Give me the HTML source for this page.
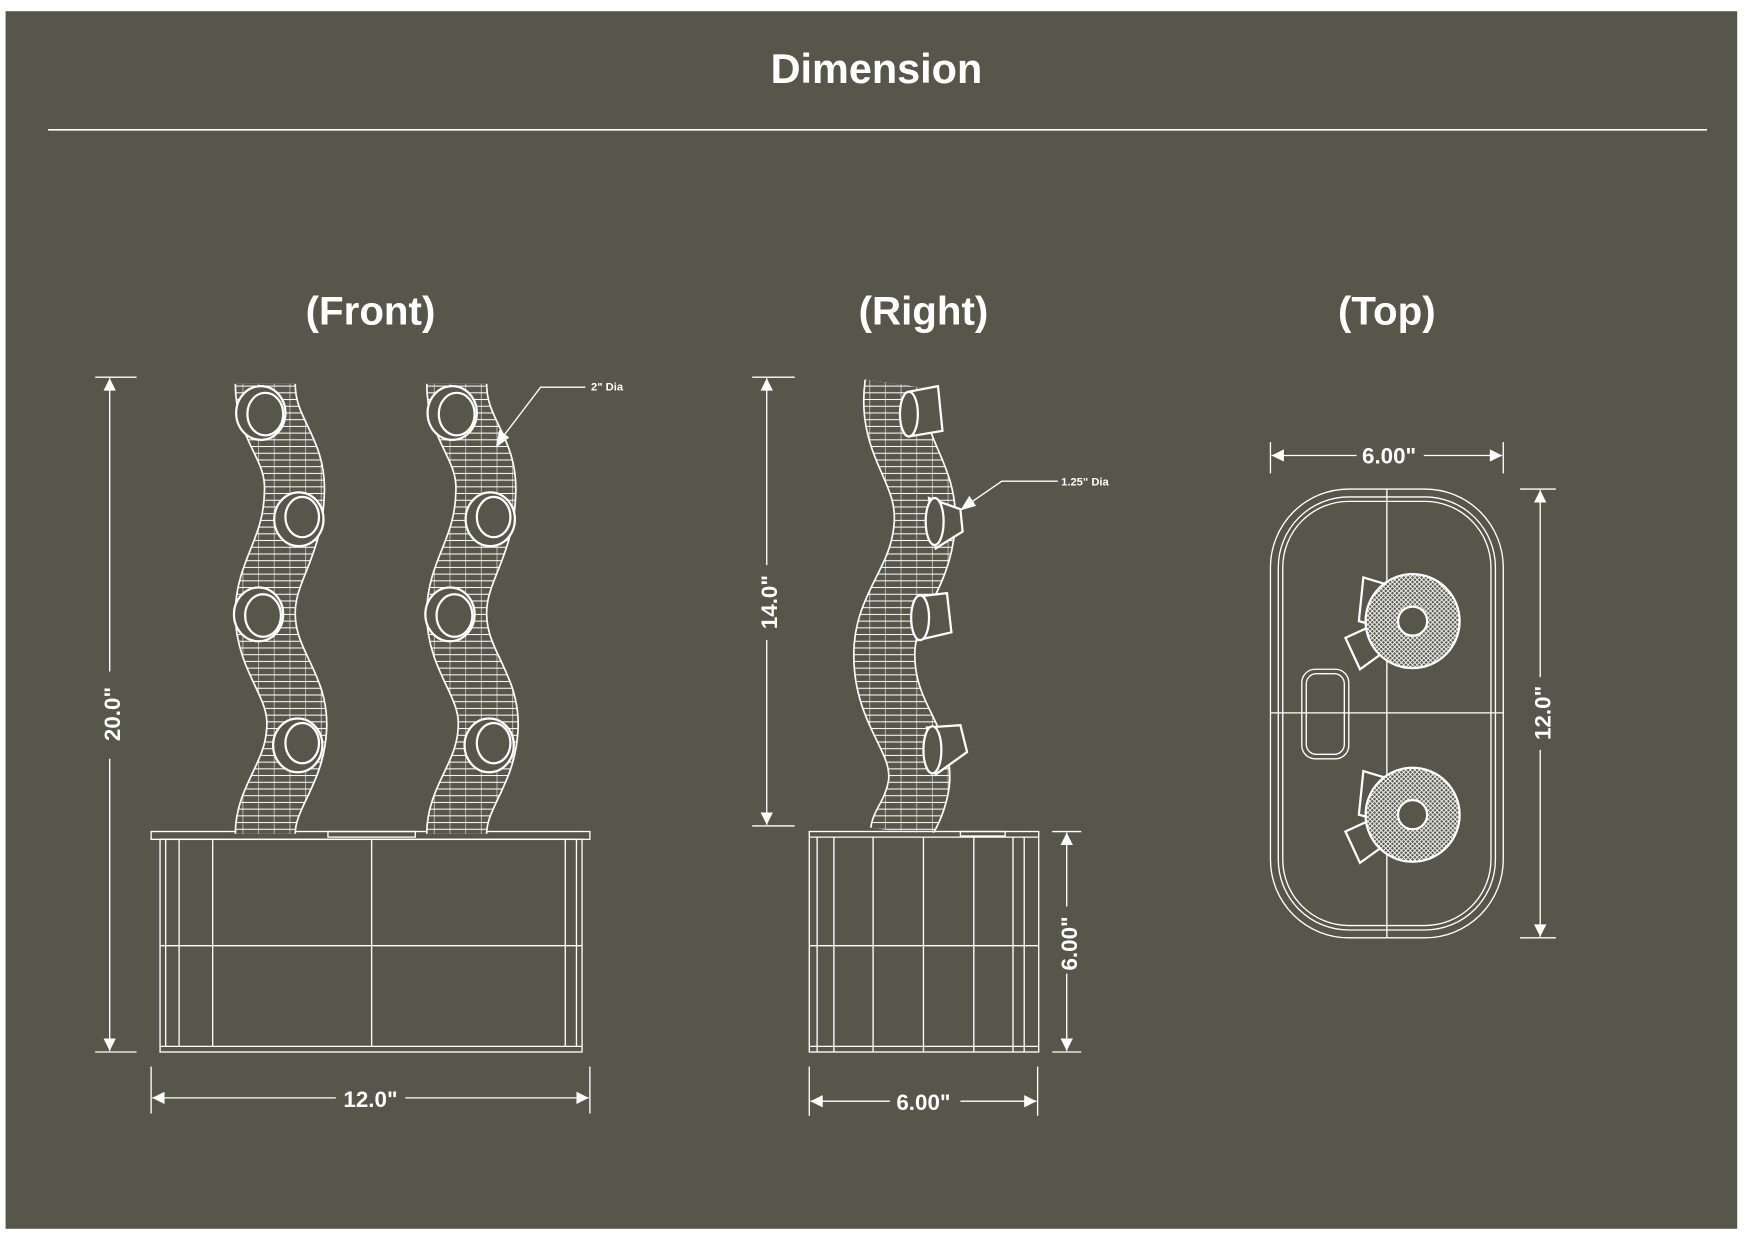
<!DOCTYPE html>
<html><head><meta charset="utf-8"><style>
html,body{margin:0;padding:0;background:#fff;width:1754px;height:1240px;overflow:hidden}
svg{display:block}
text{font-family:"Liberation Sans",sans-serif;font-weight:bold;fill:#fff}
</style></head><body>
<svg width="1754" height="1240" viewBox="0 0 1567 1108" preserveAspectRatio="none" xmlns="http://www.w3.org/2000/svg">
<defs>
<pattern id="h" width="14" height="6" patternUnits="userSpaceOnUse">
<rect width="14" height="6" fill="#56574a"/><path d="M0 3 H14" stroke="#fff" stroke-width="0.9"/><path d="M7 0 V6" stroke="#fff" stroke-width="0.5"/>
</pattern>
<pattern id="d" width="4" height="4" patternUnits="userSpaceOnUse">
<rect width="4" height="4" fill="#56574a"/><path d="M0 0 L4 4 M4 0 L0 4" stroke="#fff" stroke-width="0.8"/>
</pattern>
<marker id="a" viewBox="0 0 10 10" refX="10" refY="5" markerWidth="19" markerHeight="11" markerUnits="userSpaceOnUse" orient="auto-start-reverse"><path d="M0 0 L10 5 L0 10 Z" fill="#fff"/></marker>
<g id="tube">
<path d="M237,343 C237,385 265,400 263,440 C262,490 237,510 237,548 C237,592 268,612 265,652 C263,692 237,712 237,745" fill="none" stroke="#fff" stroke-width="55"/>
<path d="M237,343 C237,385 265,400 263,440 C262,490 237,510 237,548 C237,592 268,612 265,652 C263,692 237,712 237,745" fill="none" stroke="url(#h)" stroke-width="52"/>
<g fill="#56574a" stroke="#fff" stroke-width="2">
<ellipse cx="233" cy="369" rx="22" ry="24"/><ellipse cx="237" cy="370" rx="16" ry="19"/>
<ellipse cx="267" cy="464" rx="22" ry="24"/><ellipse cx="270" cy="462" rx="15" ry="18"/>
<ellipse cx="231" cy="549" rx="22" ry="24"/><ellipse cx="235" cy="550" rx="16" ry="19"/>
<ellipse cx="266" cy="666" rx="22" ry="24"/><ellipse cx="270" cy="664" rx="15" ry="18"/>
</g>
</g>
</defs>
<rect x="5" y="10" width="1547" height="1088" fill="#56574a"/>
<text x="783" y="74" font-size="37" text-anchor="middle">Dimension</text>
<line x1="43" y1="116" x2="1525" y2="116" stroke="#fff" stroke-width="1.5"/>
<text x="331" y="290" font-size="36" text-anchor="middle">(Front)</text>
<text x="825" y="290" font-size="36" text-anchor="middle">(Right)</text>
<text x="1239" y="290" font-size="36" text-anchor="middle">(Top)</text>

<g stroke="#fff" stroke-width="1.2" fill="none">
<line x1="85" y1="337" x2="122" y2="337"/><line x1="85" y1="940" x2="122" y2="940"/>
<line x1="98" y1="600" x2="98" y2="338" marker-end="url(#a)"/><line x1="98" y1="678" x2="98" y2="939" marker-end="url(#a)"/>
<line x1="135" y1="953" x2="135" y2="995"/><line x1="527" y1="953" x2="527" y2="995"/>
<line x1="300" y1="981" x2="136" y2="981" marker-end="url(#a)"/><line x1="362" y1="981" x2="526" y2="981" marker-end="url(#a)"/>
<rect x="135" y="743" width="392" height="7"/>
<rect x="143" y="750" width="377" height="190"/>
<line x1="143" y1="935" x2="520" y2="935"/>
<line x1="148" y1="750" x2="148" y2="935"/><line x1="160" y1="750" x2="160" y2="935"/><line x1="190" y1="750" x2="190" y2="935"/>
<line x1="332" y1="750" x2="332" y2="935"/><line x1="505" y1="750" x2="505" y2="935"/><line x1="515" y1="750" x2="515" y2="935"/>
<line x1="143" y1="845" x2="520" y2="845"/>
<rect x="293" y="743" width="78" height="5"/>
</g>
<text transform="translate(107,638) rotate(-90)" font-size="20" text-anchor="middle">20.0"</text>
<text x="331" y="989" font-size="20" text-anchor="middle">12.0"</text>

<use href="#tube"/>
<use href="#tube" x="171"/>
<path d="M523,346 H483 L448,392" fill="none" stroke="#fff" stroke-width="1.2"/>
<path d="M443,400 L446,384 L455,391 Z" fill="#fff"/>
<text x="528" y="349" font-size="10">2" Dia</text>

<g stroke="#fff" stroke-width="1.2" fill="none">
<line x1="672" y1="337" x2="710" y2="337"/><line x1="672" y1="738" x2="710" y2="738"/>
<line x1="685" y1="505" x2="685" y2="338" marker-end="url(#a)"/><line x1="685" y1="572" x2="685" y2="737" marker-end="url(#a)"/>
</g>
<path d="M800,343 C792,400 830,420 826,470 C822,520 790,540 790,585 C790,640 825,660 821,700 C817,725 806,735 805,743" fill="none" stroke="#fff" stroke-width="56"/>
<path d="M800,343 C792,400 830,420 826,470 C822,520 790,540 790,585 C790,640 825,660 821,700 C817,725 806,735 805,743" fill="none" stroke="url(#h)" stroke-width="53"/>
<rect x="720" y="744" width="215" height="200" fill="#56574a"/>
<g stroke="#fff" stroke-width="1.2" fill="none">
<rect x="723" y="743" width="205" height="197"/>
<line x1="723" y1="748" x2="928" y2="748"/>
<line x1="730" y1="748" x2="730" y2="940"/><line x1="745" y1="748" x2="745" y2="940"/><line x1="780" y1="748" x2="780" y2="940"/>
<line x1="825" y1="748" x2="825" y2="940"/><line x1="870" y1="748" x2="870" y2="940"/><line x1="905" y1="748" x2="905" y2="940"/><line x1="915" y1="748" x2="915" y2="940"/>
<line x1="723" y1="845" x2="928" y2="845"/><line x1="723" y1="935" x2="928" y2="935"/>
<rect x="858" y="743" width="40" height="4"/>
<line x1="940" y1="743" x2="966" y2="743"/><line x1="940" y1="940" x2="966" y2="940"/>
<line x1="953" y1="810" x2="953" y2="744" marker-end="url(#a)"/><line x1="953" y1="870" x2="953" y2="939" marker-end="url(#a)"/>
<line x1="723" y1="953" x2="723" y2="997"/><line x1="927" y1="953" x2="927" y2="997"/>
<line x1="795" y1="984" x2="724" y2="984" marker-end="url(#a)"/><line x1="858" y1="984" x2="926" y2="984" marker-end="url(#a)"/>
</g>
<text transform="translate(694,538) rotate(-90)" font-size="20" text-anchor="middle">14.0"</text>
<text transform="translate(962,843) rotate(-90)" font-size="20" text-anchor="middle">6.00"</text>
<text x="825" y="992" font-size="20" text-anchor="middle">6.00"</text>
<g fill="#56574a" stroke="#fff" stroke-width="2">
<path d="M812,350 L838,345 L842,385 L812,390 Z"/><ellipse cx="812" cy="370" rx="8" ry="20"/>
<path d="M830,445 L858,455 L860,475 L836,490 Z"/><ellipse cx="835" cy="466" rx="8" ry="21"/>
<path d="M820,533 L846,530 L850,565 L820,572 Z"/><ellipse cx="822" cy="552" rx="8" ry="20"/>
<path d="M828,650 L858,648 L864,672 L836,692 Z"/><ellipse cx="833" cy="670" rx="8" ry="21"/>
</g>
<path d="M945,430 H895 L866,450" fill="none" stroke="#fff" stroke-width="1.2"/>
<path d="M858,456 L866,443 L872,452 Z" fill="#fff"/>
<text x="948" y="434" font-size="10">1.25" Dia</text>

<g stroke="#fff" stroke-width="1.2" fill="none">
<line x1="1135" y1="395" x2="1135" y2="423"/><line x1="1343" y1="395" x2="1343" y2="423"/>
<line x1="1212" y1="407" x2="1136" y2="407" marker-end="url(#a)"/><line x1="1272" y1="407" x2="1342" y2="407" marker-end="url(#a)"/>
<rect x="1135" y="437" width="208" height="401" rx="70"/>
<rect x="1142" y="444" width="194" height="387" rx="63"/>
<rect x="1146" y="448" width="186" height="379" rx="59"/>
<line x1="1239" y1="437" x2="1239" y2="838"/><line x1="1135" y1="637" x2="1343" y2="637"/>
<rect x="1163" y="598" width="42" height="80" rx="12"/><rect x="1167" y="602" width="34" height="72" rx="9"/>
<line x1="1358" y1="437" x2="1390" y2="437"/><line x1="1358" y1="838" x2="1390" y2="838"/>
<line x1="1376" y1="605" x2="1376" y2="438" marker-end="url(#a)"/><line x1="1376" y1="670" x2="1376" y2="837" marker-end="url(#a)"/>
</g>
<text transform="translate(1385,637) rotate(-90)" font-size="20" text-anchor="middle">12.0"</text>
<text x="1241" y="414" font-size="20" text-anchor="middle">6.00"</text>
<g stroke="#fff" stroke-width="2">
<path d="M1218,516 L1238,522 L1232,560 L1214,555 Z" fill="#56574a"/>
<path d="M1202,570 L1228,558 L1240,580 L1215,598 Z" fill="#56574a"/>
<circle cx="1262" cy="555" r="42" fill="url(#d)"/><circle cx="1262" cy="555" r="13" fill="#56574a"/>
<path d="M1218,689 L1238,695 L1232,733 L1214,728 Z" fill="#56574a"/>
<path d="M1202,743 L1228,731 L1240,753 L1215,771 Z" fill="#56574a"/>
<circle cx="1262" cy="728" r="42" fill="url(#d)"/><circle cx="1262" cy="728" r="13" fill="#56574a"/>
</g>
</svg>
</body></html>
